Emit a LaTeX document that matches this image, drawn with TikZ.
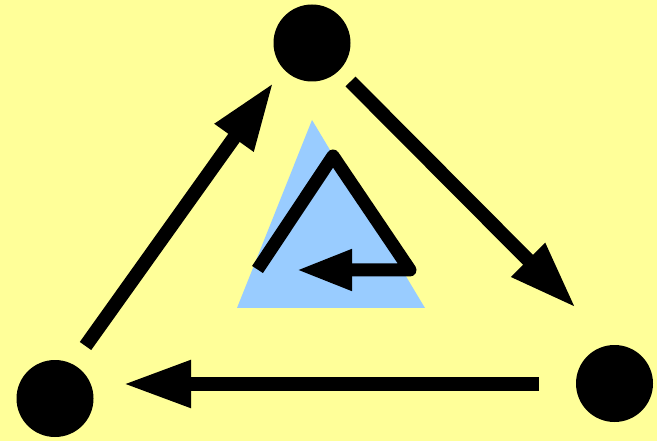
\documentclass[tikz,border=0pt]{standalone}
\usetikzlibrary{arrows.meta}
\definecolor{bgyellow}{HTML}{FFFF99}
\definecolor{lightblue}{HTML}{99CCFF}
\tikzset{
  dot/.style={circle,fill=black,inner sep=0pt,minimum size=77pt},
  bigarrow/.style={line width=14pt,-{Triangle[length=68pt,width=44pt]}},
  smallarrow/.style={line width=13pt,line join=round,-{Triangle[length=56pt,width=38pt]}}
}
\begin{document}
\begin{tikzpicture}[x=1pt,y=-1pt]
\fill[bgyellow] (0,0) rectangle (657,441);
\useasboundingbox (0,0) rectangle (657,441);
\fill[lightblue] (312,120) -- (237,308) -- (425,308) -- cycle;
\node[dot] (top) at (312,43) {};
\node[dot] (bl) at (55,398.5) {};
\node[dot] (br) at (614.5,383.5) {};
\coordinate (a1) at (85.5,346);
\coordinate (a2) at (273.5,82.5);
\coordinate (b1) at (350.5,81.5);
\coordinate (b2) at (576,308);
\coordinate (c1) at (539,384);
\coordinate (c2) at (123,384);
\draw[bigarrow] (a1) -- (a2);
\draw[bigarrow] (b1) -- (b2);
\draw[bigarrow] (c1) -- (c2);
\coordinate (i1) at (257.5,269.5);
\coordinate (i2) at (333,156);
\coordinate (i3) at (410,270);
\coordinate (i4) at (296,270);
\draw[smallarrow] (i1) -- (i2) -- (i3) -- (i4);
\end{tikzpicture}
\end{document}
